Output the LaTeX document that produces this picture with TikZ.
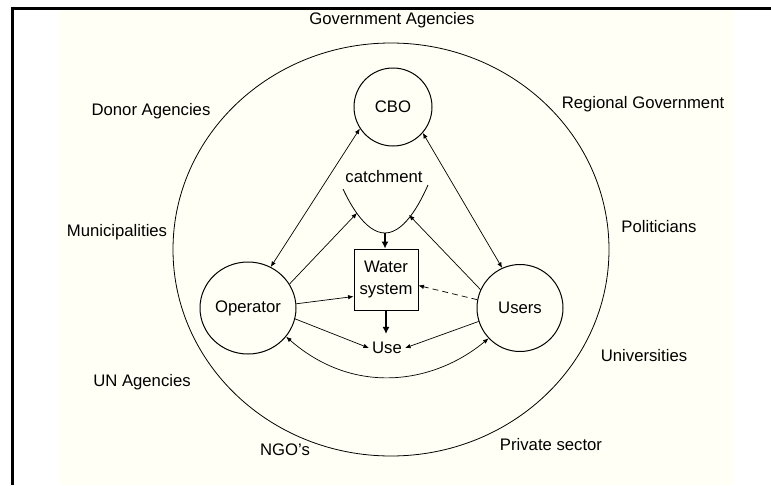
\documentclass[tikz,border=0pt]{standalone}
\usepackage{fontspec}
\setmainfont{Liberation Sans}
\usetikzlibrary{shapes.geometric,arrows.meta}
\definecolor{bgy}{RGB}{255,255,245}
\begin{document}
\begin{tikzpicture}[x=1pt,y=-1pt,
  every node/.style={font=\fontsize{16.7}{21.5}\selectfont},
  lbl/.style={inner sep=0pt},
  actor/.style={draw, line width=1pt, ellipse, inner sep=0pt},
  conn/.style={line width=0.7pt, -{Latex[length=5.5pt,width=4.5pt]}},
  biconn/.style={line width=0.7pt, {Latex[length=5.5pt,width=4.5pt]}-{Latex[length=5.5pt,width=4.5pt]}},
  flow/.style={line width=2pt, -{Latex[length=7pt,width=7pt]}}
]
\useasboundingbox (0,0) rectangle (771,485);
\fill[bgy] (60,8) rectangle (733,485);
\draw[line width=3pt] (10.5,8) -- (771,8);
\draw[line width=3pt] (12,6.5) -- (12,485);

\node[draw, ellipse, minimum width=436pt, minimum height=413pt, line width=0.8pt] (outer) at (391,249.5) {};
\node[actor, minimum width=78pt, minimum height=78pt] (cbo) at (393,107) {CBO};
\node[actor, minimum width=96pt, minimum height=92pt] (op) at (248,308) {Operator};
\node[actor, minimum width=86pt, minimum height=87pt] (users) at (520,308) {Users};
\node[draw, line width=0.8pt, minimum width=64pt, minimum height=61pt, align=center, inner sep=0pt] (ws) at (386,279.5) {Water\\system};
\node[inner xsep=3pt, inner ysep=8pt] (use) at (387,348) {Use};
\node[lbl] (catchlbl) at (384,177) {catchment};
\draw[line width=0.8pt] (343,189) parabola bend (385,233) (428,185);
\coordinate (cL) at (357,213);
\coordinate (cR) at (409,215);
\coordinate (cB) at (385,233);

\node[lbl] (l1) at (392,20) {Government Agencies};
\node[lbl] (l2) at (151,111) {Donor Agencies};
\node[lbl] (l3) at (643,104) {Regional Government};
\node[lbl] (l4) at (117,232) {Municipalities};
\node[lbl] (l5) at (659,227) {Politicians};
\node[lbl] (l6) at (142,382) {UN Agencies};
\node[lbl] (l7) at (644,356) {Universities};
\node[lbl] (l8) at (285,450) {NGO's};
\node[lbl] (l9) at (551,445) {Private sector};

\draw[biconn] (cbo.213) -- (op.61);
\draw[biconn] (cbo.319) -- (users.114);
\draw[conn] (op.30) -- (cL);
\draw[conn] (users.155) -- (cR);
\draw[conn] (op.5) -- ([yshift=-17pt]ws.west);
\draw[conn, dash pattern=on 6pt off 4pt] (users.169) -- ([yshift=-6pt]ws.east);
\draw[conn] (op.-13) -- (use.west);
\draw[conn] (users.198) -- (use.east);
\draw[biconn] (op.-37) .. controls (355,397) and (435,383) .. (users.224);
\draw[flow] (cB) -- (cB |- ws.north);
\draw[flow] (ws.south) -- (ws.south |- use.north);
\end{tikzpicture}
\end{document}
